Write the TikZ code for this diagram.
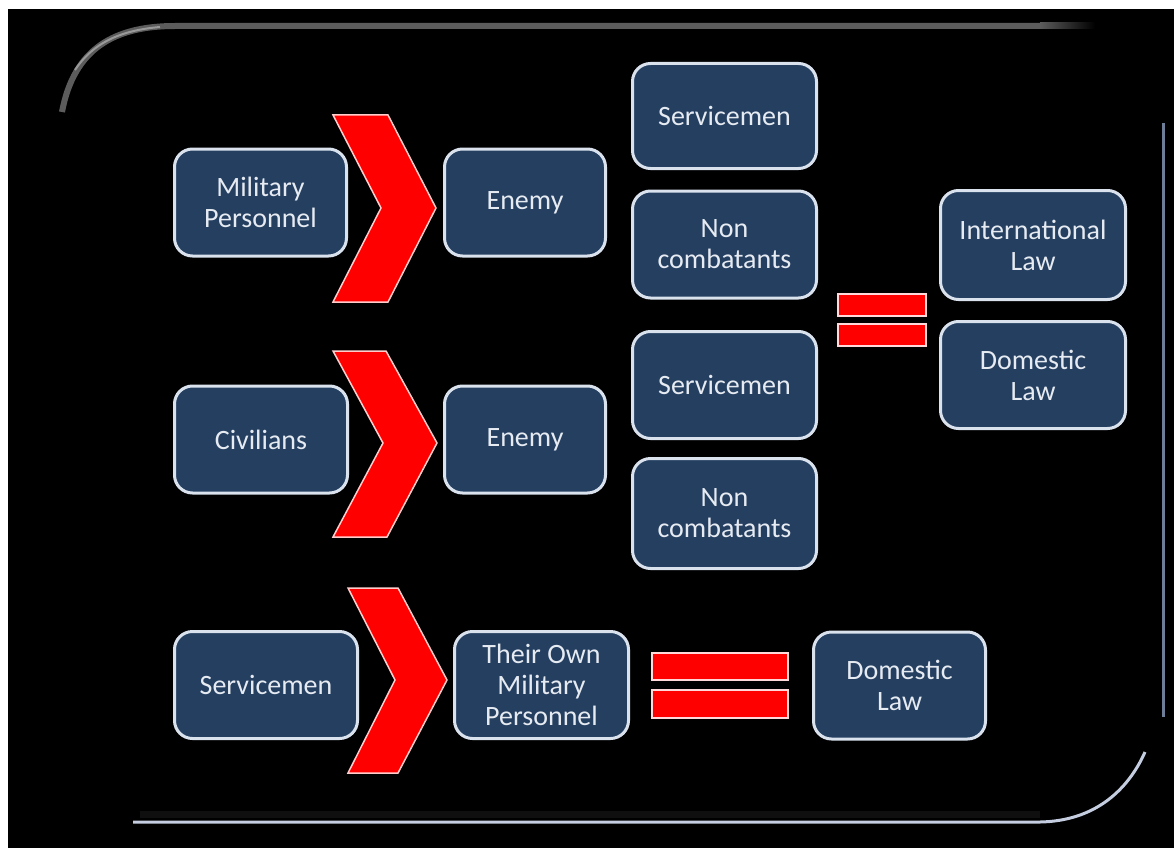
\documentclass[tikz,border=0pt]{standalone}
\usepackage{fontspec}
\setmainfont{Carlito}
\definecolor{boxblue}{RGB}{37,63,97}
\definecolor{boxedge}{RGB}{218,226,238}
\definecolor{boxtext}{RGB}{230,235,242}
\definecolor{rimgray}{RGB}{92,92,92}
\definecolor{rimblue}{RGB}{110,126,152}
\definecolor{rimlight}{RGB}{196,206,224}
\begin{document}
\begin{tikzpicture}[x=1pt,y=-1pt,
    box/.style={draw=boxedge,line width=3pt,fill=boxblue,rounded corners=18pt,
      text=boxtext,align=center,inner sep=0pt,minimum height=107pt,
      font=\fontsize{28}{31}\selectfont},
    bar/.style={draw=white!85!red,line width=2pt,fill=red,inner sep=0pt},
    chev/.style={draw=white!80!red,line width=1.5pt,fill=red}]
  % frame
  \fill[white] (0,0) rectangle (1174,848);
  \fill[black] (8,9) rectangle (1174,848);
  \draw[line width=6pt,rimgray] (62,112) .. controls (74,48) and (115,26) .. (175,26) -- (1040,26);
  \shade[left color=rimgray,right color=black] (1040,23) rectangle (1095,29);
  \draw[line width=2pt,gray!80] (75,70) .. controls (95,40) and (125,30) .. (160,27);
  \draw[line width=3pt,rimblue] (1163,123) -- (1163,717);
  \draw[line width=7pt,black!88!gray] (140,814) -- (1040,814);
  \draw[line width=3pt,rimlight] (133,822) -- (1040,822)
    .. controls (1095,821) and (1128,790) .. (1145,752);
  % chevrons
  \filldraw[chev] (333,115) -- (388,115) -- (436,208) -- (388,302) -- (333,302) -- (381,208) -- cycle;
  \filldraw[chev] (333,351) -- (386,351) -- (437,443) -- (387,537) -- (333,537) -- (383,443) -- cycle;
  \filldraw[chev] (348,588) -- (398,588) -- (447,680) -- (398,773) -- (348,773) -- (395,680) -- cycle;
  % row 1
  \node[box,minimum width=172pt] (mil) at (260.5,202.5) {Military\\Personnel};
  \node[box,minimum width=161pt] (ene1) at (525,202.5) {Enemy};
  \node[box,minimum width=184pt,minimum height=105pt] (srv1) at (724.5,116) {Servicemen};
  \node[box,minimum width=184pt] (non1) at (724.5,244.5) {Non\\combatants};
  \node[box,minimum width=185pt,minimum height=109pt] (intl) at (1033,245) {International\\Law};
  \node[box,minimum width=185pt] (dom1) at (1033,375) {Domestic\\Law};
  \node[bar,minimum width=88pt,minimum height=22pt] (eqa) at (882,305) {};
  \node[bar,minimum width=88pt,minimum height=22pt] (eqb) at (882,335) {};
  % row 2
  \node[box,minimum width=173pt] (civ) at (261,439.5) {Civilians};
  \node[box,minimum width=161pt] (ene2) at (525,439.5) {Enemy};
  \node[box,minimum width=184pt] (srv2) at (724.5,385) {Servicemen};
  \node[box,minimum width=184pt,minimum height=110pt] (non2) at (724.5,513.5) {Non\\combatants};
  % row 3
  \node[box,minimum width=183pt] (srv3) at (266,685) {Servicemen};
  \node[box,minimum width=174pt] (own) at (541.5,685) {Their Own\\Military\\Personnel};
  \node[bar,minimum width=136pt,minimum height=27pt] (eqc) at (720,666.5) {};
  \node[bar,minimum width=136pt,minimum height=28pt] (eqd) at (720,704) {};
  \node[box,minimum width=172pt] (dom3) at (899.5,685.5) {Domestic\\Law};
\end{tikzpicture}
\end{document}
